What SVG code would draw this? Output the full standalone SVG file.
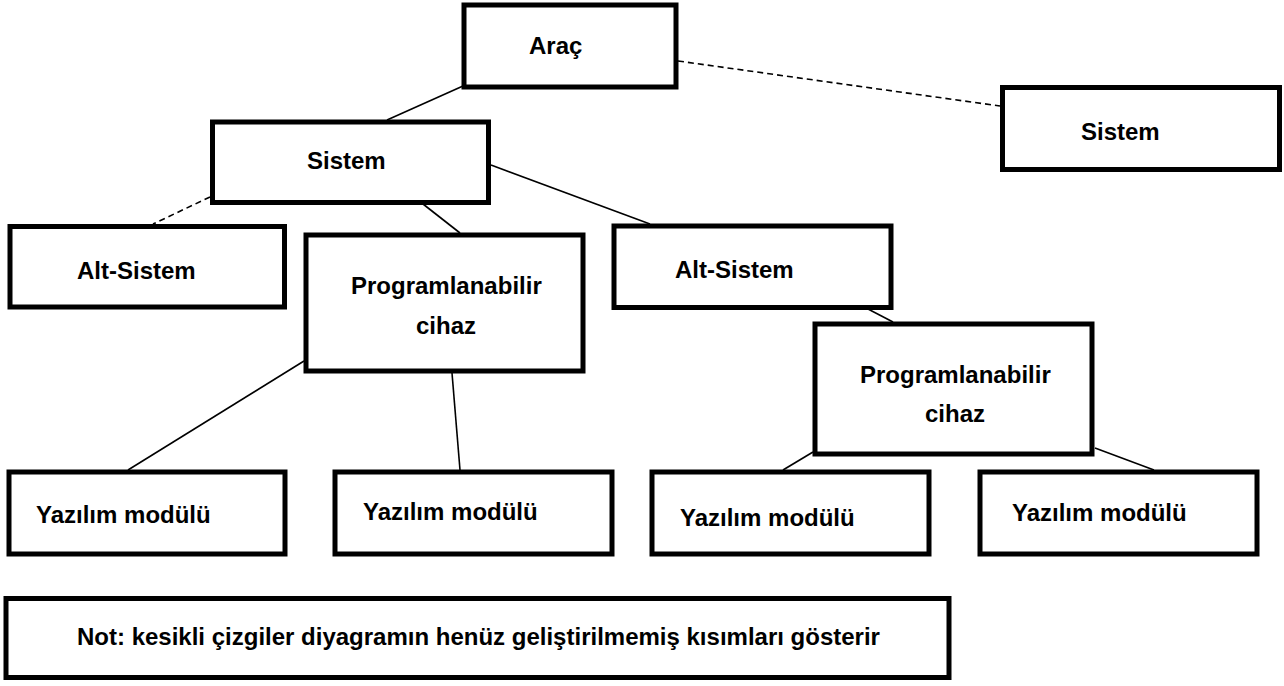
<svg xmlns="http://www.w3.org/2000/svg" width="1284" height="686" viewBox="0 0 1284 686">
<style>
.box{fill:#fff;stroke:#000;stroke-width:5}
.t{font-family:"Liberation Sans",Arial,sans-serif;font-weight:bold;font-size:24px;fill:#000}
.c{stroke:#000;stroke-width:1.6;fill:none}
.d{stroke:#000;stroke-width:1.6;fill:none;stroke-dasharray:6 4}
</style>
<rect width="1284" height="686" fill="#fff"/>
<g id="connectors">
<line class="c" x1="463" y1="86" x2="387" y2="120"/>
<line class="d" x1="678" y1="61" x2="1000" y2="106"/>
<line class="d" x1="210" y1="197" x2="153" y2="224"/>
<line class="c" x1="423" y1="204" x2="460" y2="233"/>
<line class="c" x1="491" y1="165" x2="650" y2="224"/>
<line class="c" x1="868" y1="309" x2="893" y2="322"/>
<line class="c" x1="304" y1="361" x2="128" y2="470"/>
<line class="c" x1="452" y1="373" x2="460" y2="470"/>
<line class="c" x1="813" y1="452" x2="783" y2="470"/>
<line class="c" x1="1095" y1="448" x2="1154" y2="470"/>
</g>
<g id="arac"><rect class="box" x="464" y="5" width="212" height="82"/><text class="t" x="529" y="54">Araç</text></g>
<g id="sistem1"><rect class="box" x="212.5" y="122" width="276" height="80.5"/><text class="t" x="307" y="169">Sistem</text></g>
<g id="sistem2"><rect class="box" x="1002.5" y="87.5" width="277" height="82"/><text class="t" x="1081" y="140">Sistem</text></g>
<g id="altsistem1"><rect class="box" x="10" y="226.5" width="274.5" height="80.5"/><text class="t" x="77" y="279">Alt-Sistem</text></g>
<g id="altsistem2"><rect class="box" x="614" y="226" width="277" height="81.5"/><text class="t" x="675" y="278">Alt-Sistem</text></g>
<g id="prog1"><rect class="box" x="306" y="235" width="277" height="136"/><text class="t" x="351" y="294">Programlanabilir</text><text class="t" x="416" y="334">cihaz</text></g>
<g id="prog2"><rect class="box" x="815" y="324" width="277" height="130"/><text class="t" x="860" y="383">Programlanabilir</text><text class="t" x="925" y="422">cihaz</text></g>
<g id="ym1"><rect class="box" x="9" y="472" width="276" height="82"/><text class="t" x="36" y="523">Yazılım modülü</text></g>
<g id="ym2"><rect class="box" x="335" y="472" width="277" height="82"/><text class="t" x="363" y="520">Yazılım modülü</text></g>
<g id="ym3"><rect class="box" x="652" y="472" width="277" height="82"/><text class="t" x="680" y="526">Yazılım modülü</text></g>
<g id="ym4"><rect class="box" x="980" y="472" width="277" height="82"/><text class="t" x="1012" y="521">Yazılım modülü</text></g>
<g id="note"><rect class="box" x="6" y="598.5" width="943" height="79"/><text class="t" x="77" y="645">Not: kesikli çizgiler diyagramın henüz geliştirilmemiş kısımları gösterir</text></g>
</svg>
